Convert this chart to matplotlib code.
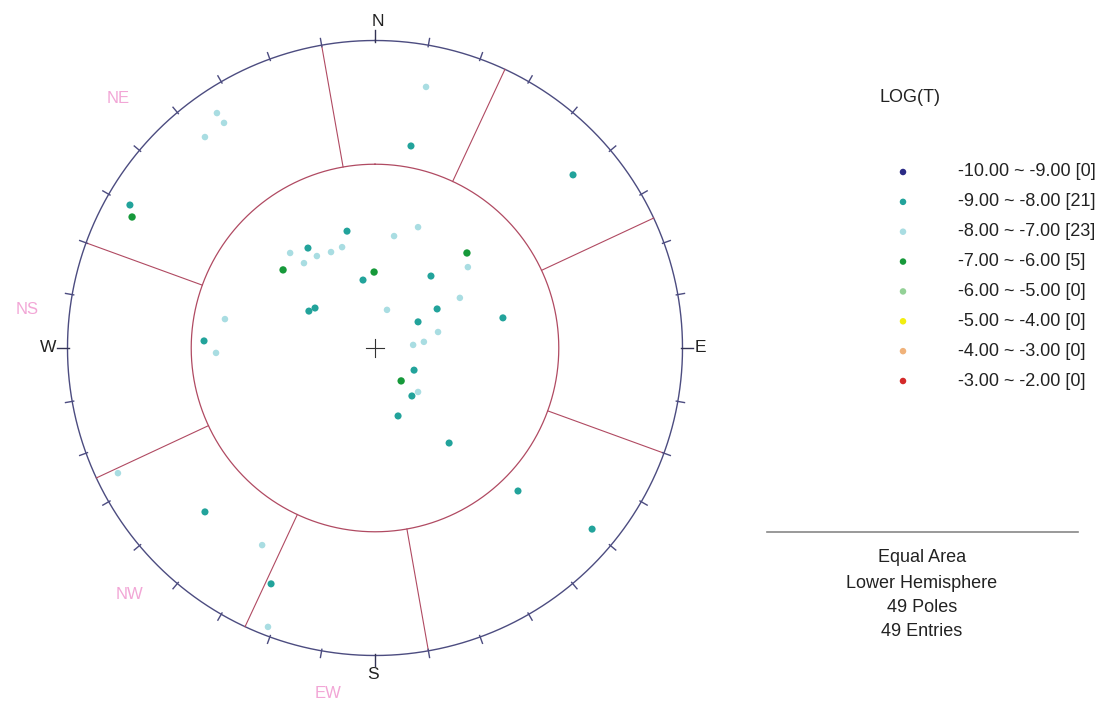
import numpy as np
import matplotlib.pyplot as plt

plt.rcParams['font.family'] = ['Liberation Sans', 'DejaVu Sans']

# pole positions on the equal-area net, (east, north) with unit net radius
teal_e = [-0.797, -0.091, -0.218, -0.039, -0.215, -0.195, -0.556, 0.182, 0.202, 0.140, 0.416,
          0.127, 0.120, 0.075, 0.241, 0.117, 0.644, 0.465, 0.706, -0.553, -0.338]
teal_n = [0.465, 0.380, 0.325, 0.221, 0.120, 0.130, 0.023, 0.234, 0.127, 0.085, 0.098,
          -0.072, -0.156, -0.221, -0.309, 0.657, 0.563, -0.465, -0.589, -0.533, -0.767]

light_e = [-0.514, -0.491, -0.553, -0.276, -0.189, -0.231, -0.143, -0.107, -0.488, -0.517, 0.140, 0.062,
           0.302, 0.276, 0.039, 0.205, 0.124, 0.159, 0.140, 0.166, -0.836, -0.367, -0.348]
light_n = [0.764, 0.732, 0.686, 0.309, 0.299, 0.276, 0.312, 0.328, 0.094, -0.016, 0.393, 0.364,
           0.263, 0.163, 0.124, 0.052, 0.010, 0.020, -0.143, 0.849, -0.407, -0.641, -0.907]

green_e = [-0.790, -0.299, -0.003, 0.299, 0.085]
green_n = [0.426, 0.254, 0.247, 0.309, -0.107]

# LOG(T) classes
class_low = [-10, -9, -8, -7, -6, -5, -4, -3]
class_count = [0, 21, 23, 5, 0, 0, 0, 0]
class_colors = ['#2b2b86', '#22a39b', '#a9dde2', '#16993a', '#93d196', '#f2ee10', '#f0b27a', '#d42a2a']

# sector boundaries (azimuth, degrees) and the inner circle plunge
sector_bounds = [350, 25, 65, 110, 170, 205, 245, 290]
inner_plunge = 40
sector_names = ['NE', 'NS', 'NW', 'EW']
sector_pos = [(-0.836, 0.813), (-1.132, 0.124), (-0.797, -0.803), (-0.153, -1.122)]


def equalArea(plunge):
    """
    Radius of a given plunge on the unit equal-area net
    """
    return np.sqrt(2) * np.sin(np.radians(90 - plunge) / 2)


fig = plt.figure(figsize=(11.12, 7.03), dpi=100)
ax = fig.add_axes([0, 0, 750 / 1112, 1])
ax.set_xlim(-375 / 307.5, 375 / 307.5)
ax.set_ylim(-355 / 307.5, 348 / 307.5)
ax.axis('off')

outerColor = '#4c4c80'
redColor = '#b04a62'

t = np.linspace(0, 2 * np.pi, 721)
ax.plot(np.sin(t), np.cos(t), c=outerColor, lw=1.0)
ri = equalArea(inner_plunge)
ax.plot(ri * np.sin(t), ri * np.cos(t), c=redColor, lw=0.9)

# sector dividers
for az in sector_bounds:
    a = np.radians(az)
    ax.plot([ri * np.sin(a), np.sin(a)], [ri * np.cos(a), np.cos(a)], c=redColor, lw=0.8)

# 10 degree ticks
for az in range(0, 360, 10):
    a = np.radians(az)
    r1 = 1.035 if az % 90 == 0 else 1.022
    ax.plot([0.995 * np.sin(a), r1 * np.sin(a)], [0.995 * np.cos(a), r1 * np.cos(a)],
            c='#333355' if az % 90 == 0 else outerColor, lw=1.0)

# cardinal labels
ax.text(0.01, 1.063, 'N', ha='center', va='center', fontsize=12.5, color='#222222')
ax.text(1.038, 0.0, 'E', ha='left', va='center', fontsize=12.5, color='#222222')
ax.text(-1.036, 0.0, 'W', ha='right', va='center', fontsize=12.5, color='#222222')
ax.text(-0.005, -1.063, 'S', ha='center', va='center', fontsize=12.5, color='#222222')

# centre cross
ax.plot([-0.03, 0.03], [0, 0], c='#333333', lw=0.8)
ax.plot([0, 0], [-0.03, 0.03], c='#333333', lw=0.8)

for name, (x, y) in zip(sector_names, sector_pos):
    ax.text(x, y, name, ha='center', va='center', fontsize=12, color='#f2a6d6')

# poles
ax.scatter(light_e, light_n, s=22, c=class_colors[2], edgecolors='none', zorder=3)
ax.scatter(teal_e, teal_n, s=26, c=class_colors[1], edgecolors='none', zorder=4)
ax.scatter(green_e, green_n, s=28, c=class_colors[3], edgecolors='none', zorder=5)

# legend panel in pixel units
lax = fig.add_axes([0, 0, 1, 1])
lax.set_xlim(0, 1112)
lax.set_ylim(703, 0)
lax.axis('off')

lax.text(910, 97, 'LOG(T)', ha='center', va='center', fontsize=13, color='#222222')
rowY = np.linspace(172, 381, len(class_low))
labels = ['{:.2f} ~ {:.2f} [{}]'.format(lo, lo + 1, n) for lo, n in zip(class_low, class_count)]
lax.scatter([903] * len(rowY), rowY, s=22, c=class_colors, edgecolors='none')
for label, y in zip(labels, rowY):
    lax.text(958, y, label, ha='left', va='center', fontsize=13, color='#222222')

lax.plot([767, 1078], [532, 532], color='#888888', lw=1.2)

info = ['Equal Area', 'Lower Hemisphere', '{} Poles'.format(sum(class_count)),
        '{} Entries'.format(sum(class_count))]
for line, y in zip(info, [558, 583, 607, 631]):
    lax.text(922, y, line, ha='center', va='center', fontsize=13, color='#222222')

fig.savefig('out.png', dpi=100)
